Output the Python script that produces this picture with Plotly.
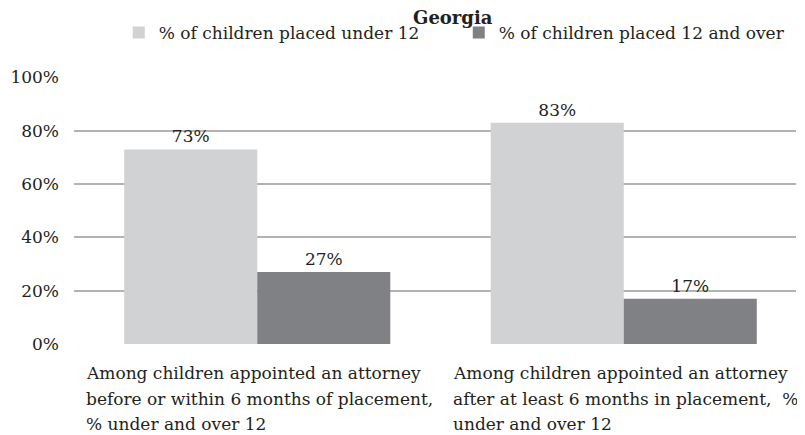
import plotly.graph_objects as go

categories = [
    "Among children appointed an attorney<br>before or within 6 months of placement,<br>% under and over 12",
    "Among children appointed an attorney<br>after at least 6 months in placement,  %<br>under and over 12",
]
series_names = ["% of children placed under 12", "% of children placed 12 and over"]
under_12 = [0.73, 0.83]
over_12 = [0.27, 0.17]
y_ticks = [0, 0.2, 0.4, 0.6, 0.8, 1.0]

FONT = "DejaVu Serif"
TEXT = "#231f20"
SIZE = 17

fig = go.Figure()
for name, vals, color in [
    (series_names[0], under_12, "#d1d2d4"),
    (series_names[1], over_12, "#808184"),
]:
    fig.add_trace(go.Bar(
        x=[0, 1],
        y=vals,
        name=name,
        marker=dict(color=color, line=dict(width=0)),
        text=[f"{v:.0%}" for v in vals],
        textposition="outside",
        textfont=dict(family=FONT, size=SIZE, color=TEXT),
        cliponaxis=False,
    ))

# category labels, left aligned under each group, one annotation per line
# so the line spacing can match the reference
for i, label in enumerate(categories):
    for j, line in enumerate(label.split("<br>")):
        fig.add_annotation(
            x=i - 0.472, y=0, xref="x", yref="paper",
            xanchor="left", yanchor="top", yshift=-17 - 25.5 * j,
            text=line, align="left", showarrow=False,
            font=dict(family=FONT, size=SIZE, color=TEXT),
        )

# page body has an 8px margin, so the figure is drawn 8px smaller
fig.update_layout(
    width=797,
    height=427,
    margin=dict(l=66, r=9, t=69, b=91, autoexpand=False),
    paper_bgcolor="white",
    plot_bgcolor="white",
    font=dict(family=FONT, size=SIZE, color=TEXT),
    barmode="group",
    bargap=0.274,
    bargroupgap=0,
    showlegend=True,
    title=dict(
        text="<b>Georgia</b>",
        x=0.558, xanchor="center", xref="container",
        y=0.978, yanchor="middle",
        font=dict(family=FONT, size=18, color=TEXT),
    ),
    legend=dict(
        orientation="h",
        x=0.062, xanchor="left",
        y=1.165, yanchor="middle",
        font=dict(family=FONT, size=SIZE, color=TEXT),
        itemwidth=30,
        entrywidth=295,
        entrywidthmode="pixels",
        tracegroupgap=0,
    ),
    xaxis=dict(
        range=[-0.5, 1.47],
        showticklabels=False,
        showgrid=False,
        zeroline=False,
        showline=False,
        fixedrange=True,
    ),
    yaxis=dict(
        range=[0, 1.002],
        tickvals=y_ticks,
        tickformat=".0%",
        showgrid=True,
        gridcolor="#b3b3b3",
        gridwidth=1.5,
        zeroline=False,
        showline=False,
        ticks="",
        ticklabelstandoff=14,
        tickfont=dict(family=FONT, size=SIZE, color=TEXT),
    ),
)

fig.write_html("out.html")
